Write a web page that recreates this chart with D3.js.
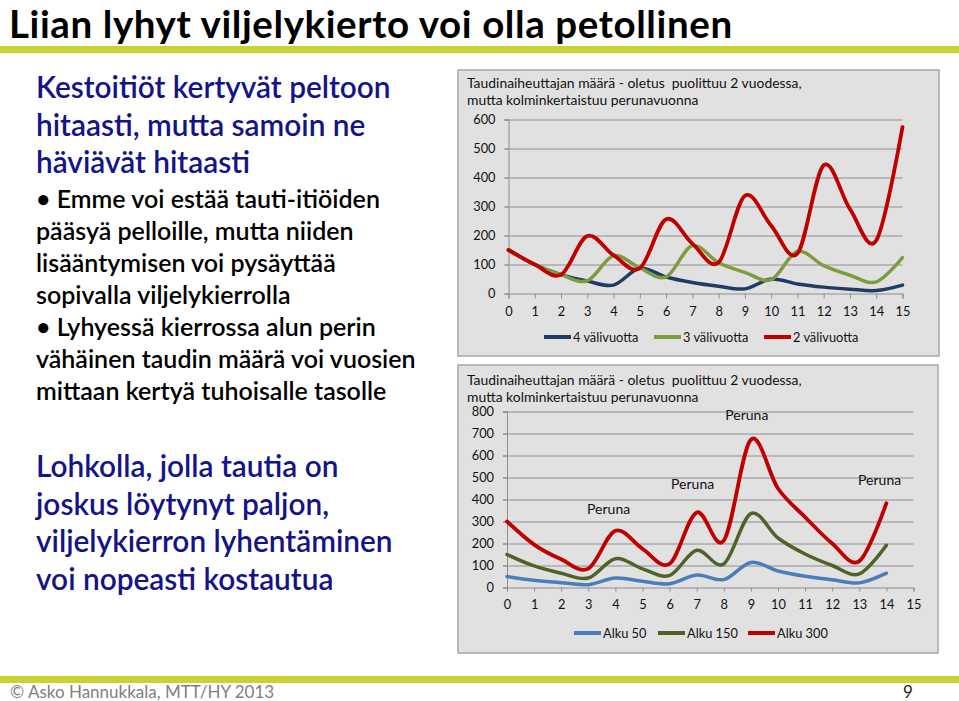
<!DOCTYPE html>
<html><head><meta charset="utf-8">
<script src="https://cdn.jsdelivr.net/npm/d3@7"></script>
<style>
html,body{margin:0;padding:0;background:#fff;}
svg{display:block;}
text{font-family:Lato,"Open Sans",sans-serif;}
</style></head>
<body>
<svg id="c" width="959" height="701"></svg>
<script>
// ---------- data ----------
const years = d3.range(0, 16);
const topSeriesNames = ["4 välivuotta", "3 välivuotta", "2 välivuotta"];
const top4 = [150,100,65,43,29,87,57,38,25,16,50,33,22,15,10,29];
const top3 = [150,100,65,44,130,88,57,165,106,73,48,145,96,63,40,124];
const top2 = [150,100,65,198,132,87,256,172,107,337,234,138,442,291,183,574];
const topYTicks = [0,100,200,300,400,500,600];

const botYears = d3.range(0, 15);
const botSeriesNames = ["Alku 50", "Alku 150", "Alku 300"];
const alku50  = [50,33,22,13,43,28,17,57,36,114,75,51,35,21,65];
const alku150 = [150,98,65,43,131,85,55,169,107,336,225,152,100,62,192];
const alku300 = [300,195,128,86,258,176,108,341,213,672,450,320,200,120,383];
const botYTicks = [0,100,200,300,400,500,600,700,800];
const perunaLabels = [
  {label:"Peruna", year:3.75, value:335},
  {label:"Peruna", year:6.85, value:450},
  {label:"Peruna", year:8.85, value:760},
  {label:"Peruna", year:13.75, value:468}
];

const chartTitle1 = "Taudinaiheuttajan määrä - oletus  puolittuu 2 vuodessa,";
const chartTitle2 = "mutta kolminkertaistuu perunavuonna";

const slideTitle = "Liian lyhyt viljelykierto voi olla petollinen";
const blueText1 = ["Kestoitiöt kertyvät peltoon","hitaasti, mutta samoin ne","häviävät hitaasti"];
const blackText = ["• Emme voi estää tauti-itiöiden","pääsyä pelloille, mutta niiden","lisääntymisen voi pysäyttää","sopivalla viljelykierrolla","• Lyhyessä kierrossa alun perin","vähäinen taudin määrä voi vuosien","mittaan kertyä tuhoisalle tasolle"];
const blueText2 = ["Lohkolla, jolla tautia on","joskus löytynyt paljon,","viljelykierron lyhentäminen","voi nopeasti kostautua"];
const footerText = "© Asko Hannukkala, MTT/HY 2013";
const pageNo = "9";

// ---------- slide ----------
const svg = d3.select("#c");
const BAR = "#c9d22f";
svg.append("text").attr("x", 9).attr("y", 38).attr("font-size", 38.5).attr("font-weight", "bold")
  .attr("letter-spacing", 0.6).attr("fill", "#000").text(slideTitle);
svg.append("rect").attr("x", 0).attr("y", 46).attr("width", 959).attr("height", 7).attr("fill", BAR);
svg.append("rect").attr("x", 0).attr("y", 676).attr("width", 959).attr("height", 7).attr("fill", BAR);
svg.append("text").attr("x", 10).attr("y", 698).attr("font-size", 17).attr("fill", "#808080").text(footerText);
svg.append("text").attr("x", 903).attr("y", 698).attr("font-size", 17).attr("fill", "#222").text(pageNo);

const BLUE = "#13138a";
function block(lines, x, y0, dy, size, color) {
  const t = svg.append("text").attr("font-size", size).attr("fill", color).attr("font-weight", 600);
  lines.forEach((l, i) => t.append("tspan").attr("x", x).attr("y", y0 + i * dy).text(l));
}
block(blueText1, 36, 98, 37.5, 29.8, BLUE);
block(blackText, 36, 208, 32, 25, "#000");
block(blueText2, 36, 477, 37.5, 29.8, BLUE);

// ---------- charts ----------
function chart(cfg) {
  const g = svg.append("g");
  g.append("rect").attr("x", cfg.frame[0]).attr("y", cfg.frame[1]).attr("width", cfg.frame[2]).attr("height", cfg.frame[3])
    .attr("fill", "#e1e1e1").attr("stroke", "#a6a6a6").attr("stroke-width", 1.5);
  const x = d3.scaleLinear().domain([0, 15]).range(cfg.xr);
  const y = d3.scaleLinear().domain([0, cfg.ymax]).range(cfg.yr);
  // title
  const tt = g.append("text").attr("font-size", 13.9).attr("fill", "#111").style("white-space", "pre");
  tt.append("tspan").attr("x", cfg.frame[0] + 9).attr("y", cfg.titleY).text(chartTitle1);
  tt.append("tspan").attr("x", cfg.frame[0] + 9).attr("y", cfg.titleY + 17).text(chartTitle2);
  // grid
  g.append("g").selectAll("line").data(cfg.yticks.filter(v => v > 0)).join("line")
    .attr("x1", cfg.xr[0] - 4).attr("x2", x(15)).attr("y1", d => y(d) + 0.5).attr("y2", d => y(d) + 0.5)
    .attr("stroke", "#8e8e8e").attr("stroke-width", 1);
  // y axis
  const ya = g.append("g").attr("transform", `translate(${cfg.xr[0]},0)`)
    .call(d3.axisLeft(y).tickValues(cfg.yticks).tickSize(4).tickPadding(9));
  ya.select(".domain").attr("stroke", "#8e8e8e");
  ya.selectAll(".tick line").attr("stroke", "#8e8e8e");
  ya.selectAll("text").attr("font-size", 12.8).attr("fill", "#111").attr("font-family", "Lato");
  // x axis
  const xa = g.append("g").attr("transform", `translate(0,${cfg.yr[0]})`)
    .call(d3.axisBottom(x).tickValues(years).tickFormat(d3.format("d")).tickSize(cfg.xtick).tickPadding(cfg.xpad));
  xa.select(".domain").attr("stroke", "#8e8e8e");
  xa.selectAll(".tick line").attr("stroke", "#8e8e8e");
  xa.selectAll("text").attr("font-size", 12.8).attr("fill", "#111").attr("font-family", "Lato");
  // lines
  const line = d3.line().x((d, i) => x(i)).y(d => y(d)).curve(d3.curveCardinal.tension(0));
  cfg.series.forEach(s => {
    g.append("path").attr("d", line(s.values)).attr("fill", "none").attr("stroke", s.color)
      .attr("stroke-width", s.w).attr("stroke-linejoin", "round").attr("stroke-linecap", "round");
  });
  // legend
  cfg.series.forEach((s, i) => {
    const lx = cfg.legendX[i];
    g.append("line").attr("x1", lx).attr("x2", lx + 27).attr("y1", cfg.legendY).attr("y2", cfg.legendY)
      .attr("stroke", s.color).attr("stroke-width", 4);
    g.append("text").attr("x", lx + 29).attr("y", cfg.legendY + 4.5).attr("font-size", 12.8).attr("fill", "#111").text(s.name);
  });
  return {g, x, y};
}

chart({
  frame: [458, 70, 481, 286], xr: [508.5, 902.5], yr: [293.5, 119.5], ymax: 600, yticks: topYTicks,
  titleY: 88, xtick: 5, xpad: 8, legendY: 337, legendX: [544, 654, 764],
  series: [
    {name: topSeriesNames[0], values: top4, color: "#1f3d64", w: 3.5},
    {name: topSeriesNames[1], values: top3, color: "#7d9c3f", w: 3.5},
    {name: topSeriesNames[2], values: top2, color: "#c00000", w: 3.8}
  ]
});

const bot = chart({
  frame: [458, 365, 480, 288], xr: [507, 913.5], yr: [587.5, 411.5], ymax: 800, yticks: botYTicks,
  titleY: 385, xtick: 4, xpad: 8, legendY: 633, legendX: [574, 658, 748],
  series: [
    {name: botSeriesNames[0], values: alku50, color: "#4a7ebb", w: 3.5},
    {name: botSeriesNames[1], values: alku150, color: "#4f6228", w: 3.5},
    {name: botSeriesNames[2], values: alku300, color: "#c00000", w: 3.8}
  ]
});
bot.g.append("g").selectAll("text").data(perunaLabels).join("text")
  .attr("x", d => bot.x(d.year)).attr("y", d => bot.y(d.value)).attr("text-anchor", "middle")
  .attr("font-size", 14).attr("fill", "#111").text(d => d.label);
</script>
</body></html>
